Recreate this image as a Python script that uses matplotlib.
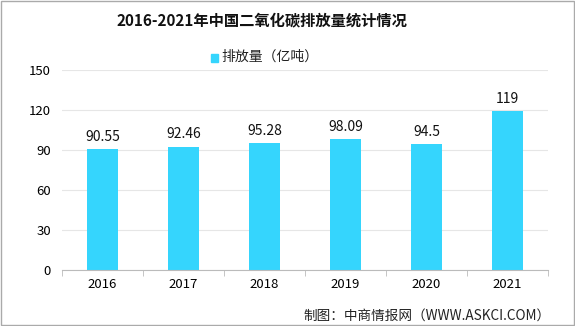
import numpy as np
import matplotlib.pyplot as plt
from matplotlib.patches import Rectangle

plt.rcParams['font.family'] = ['Noto Sans CJK SC', 'DejaVu Sans']

years = ['2016', '2017', '2018', '2019', '2020', '2021']
emissions = [90.55, 92.46, 95.28, 98.09, 94.5, 119]
value_labels = ['90.55', '92.46', '95.28', '98.09', '94.5', '119']
yticks = [0, 30, 60, 90, 120, 150]

bar_col = '#35D5FD'
grid_col = '#E6E6E6'

fig = plt.figure(figsize=(5.75, 3.26), dpi=100)
ax = fig.add_axes([62/575, 56/326, 486/575, 200/326])

x = np.arange(len(years))
ax.bar(x, emissions, width=0.38, color=bar_col, zorder=2)

for xi, v, lab in zip(x, emissions, value_labels):
    ax.text(xi, v + 4, lab, ha='center', va='bottom', fontsize=10, color='#111111')

ax.set_xlim(-0.5, len(years) - 0.5)
ax.set_ylim(0, 150)
ax.set_yticks(yticks)
ax.set_yticklabels([str(t) for t in yticks], fontsize=9.5)
ax.set_xticks(x)
ax.set_xticklabels(years, fontsize=9.5)
ax.tick_params(axis='y', length=0, pad=8)
ax.tick_params(axis='x', length=0, pad=6)

# category boundary ticks on the bottom axis
ax.set_xticks(np.arange(len(years) + 1) - 0.5, minor=True)
ax.tick_params(axis='x', which='minor', length=4, color='#BBBBBB', direction='out')

ax.grid(axis='y', color=grid_col, linewidth=0.8, zorder=0)
for s in ['top', 'right', 'left']:
    ax.spines[s].set_visible(False)
ax.spines['bottom'].set_color('#BBBBBB')

fig.text(262/575, 1 - 20/326, '2016-2021年中国二氧化碳排放量统计情况', ha='center', va='center',
         fontsize=11, fontweight='bold', color='#111111')

# legend
fig.patches.append(Rectangle((211/575, 1 - 62/326), 7/575, 8/326, transform=fig.transFigure,
                             color=bar_col, figure=fig))
fig.text(221/575, 1 - 57/326, '排放量（亿吨）', ha='left', va='center', fontsize=10, color='#222222')

fig.text(551/575, 1 - 316/326, '制图：中商情报网（WWW.ASKCI.COM）', ha='right', va='center',
         fontsize=9.8, color='#222222')

# outer border
fig.patches.append(Rectangle((0.001, 0.002), 0.997, 0.995, transform=fig.transFigure,
                             fill=False, edgecolor='#AAAAAA', linewidth=1, figure=fig))

fig.savefig('out.png', dpi=100)
